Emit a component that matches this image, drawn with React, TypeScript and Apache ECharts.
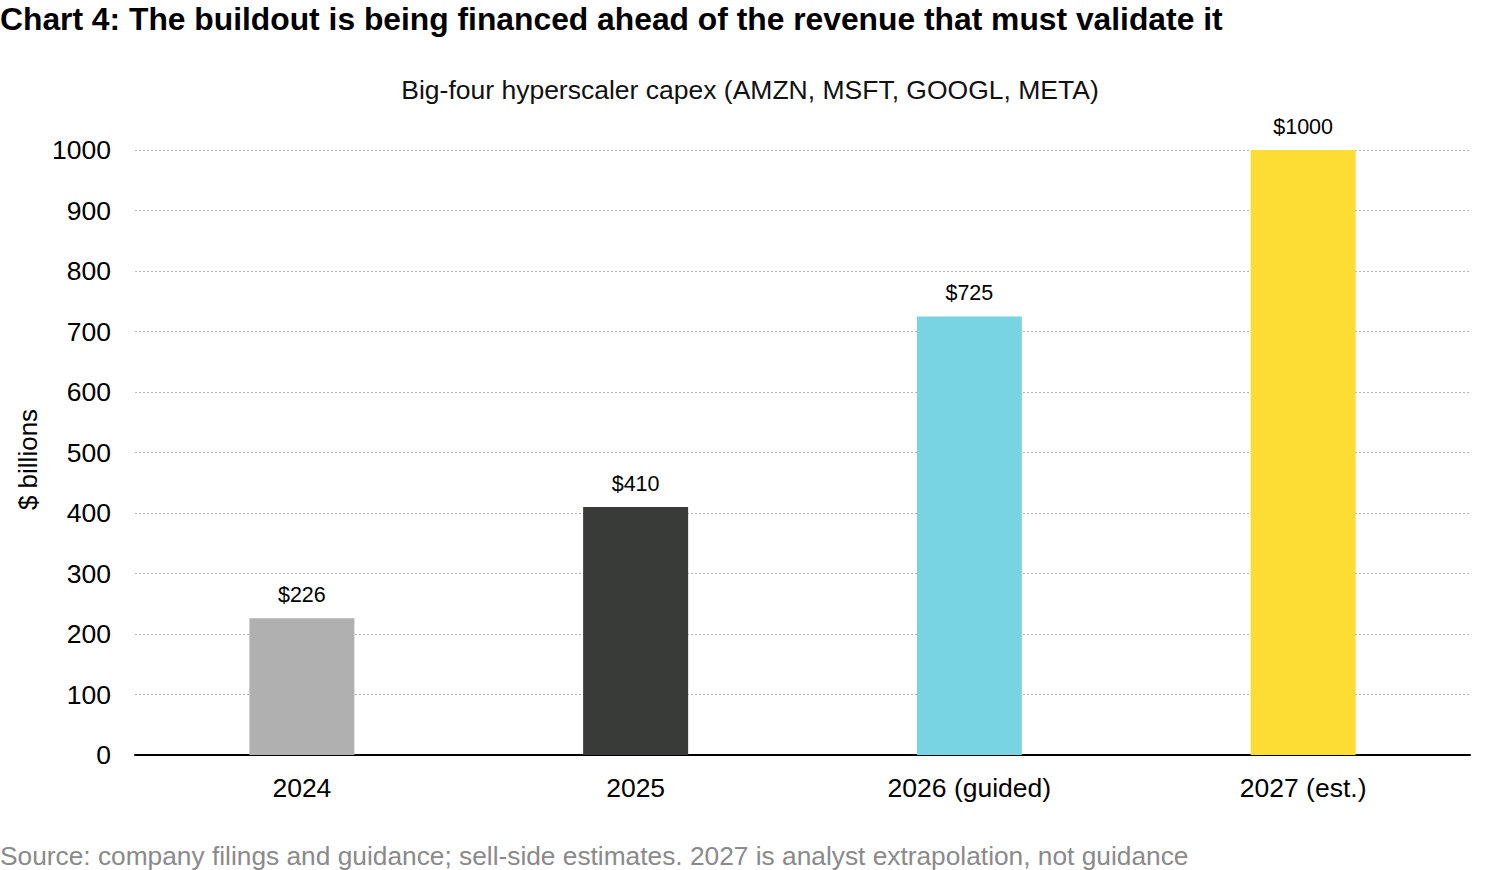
import React, { useEffect, useRef } from "react";
import * as echarts from "echarts";

const categories = ["2024", "2025", "2026 (guided)", "2027 (est.)"];
const capex = [226, 410, 725, 1000];
const barColors = ["#b0b0b0", "#393b38", "#78d3e3", "#fddc34"];
const yTicks = { min: 0, max: 1000, interval: 100 };

const FONT = "'Liberation Sans', Arial, Helvetica, sans-serif";

export default function App() {
  const ref = useRef<HTMLDivElement>(null);

  useEffect(() => {
    if (!ref.current) return;
    const chart = echarts.init(ref.current, undefined, { renderer: "svg" });
    chart.setOption({
      animation: false,
      backgroundColor: "#ffffff",
      textStyle: { fontFamily: FONT },
      title: [
        {
          text: "Chart 4: The buildout is being financed ahead of the revenue that must validate it",
          left: 0,
          top: 3,
          padding: 0,
          textStyle: { fontFamily: FONT, fontSize: 31.8, fontWeight: "bold", color: "#000" },
        },
        {
          text: "Big-four hyperscaler capex (AMZN, MSFT, GOOGL, META)",
          left: 750,
          textAlign: "center",
          top: 76,
          padding: 0,
          textStyle: { fontFamily: FONT, fontSize: 26.5, fontWeight: "normal", color: "#111" },
        },
        {
          text: "Source: company filings and guidance; sell-side estimates. 2027 is analyst extrapolation, not guidance",
          left: 0,
          top: 843,
          padding: 0,
          textStyle: { fontFamily: FONT, fontSize: 26.3, fontWeight: "normal", color: "#8a8a8a" },
        },
      ],
      grid: { left: 135, right: 30, top: 150, bottom: 115, containLabel: false },
      xAxis: {
        type: "category",
        data: categories,
        axisLine: { show: true, lineStyle: { color: "#000", width: 2 } },
        axisTick: { show: false },
        axisLabel: { fontFamily: FONT, fontSize: 26.5, color: "#000", margin: 19 },
      },
      yAxis: {
        type: "value",
        min: yTicks.min,
        max: yTicks.max,
        interval: yTicks.interval,
        name: "$ billions",
        nameLocation: "middle",
        nameRotate: 90,
        nameGap: 93,
        nameTextStyle: { fontFamily: FONT, fontSize: 26, color: "#000", padding: [0, 14, 0, 0] },
        axisLine: { show: false },
        axisTick: { show: false },
        axisLabel: {
          fontFamily: FONT,
          fontSize: 26.5,
          color: "#000",
          margin: 24,
          formatter: (v: number) => String(v),
        },
        splitLine: { show: true, lineStyle: { color: "#b5b5b5", type: [2, 2], width: 1 } },
      },
      series: [
        {
          type: "bar",
          barWidth: 105,
          data: capex.map((v, i) => ({ value: v, itemStyle: { color: barColors[i] } })),
          label: {
            show: true,
            position: "top",
            distance: 12,
            formatter: (p: any) => "$" + p.value,
            fontFamily: FONT,
            fontSize: 21.5,
            color: "#000",
          },
          z: 3,
        },
      ],
    });
    return () => chart.dispose();
  }, []);

  return (
    <div
      ref={ref}
      style={{ position: "absolute", left: 0, top: 0, width: 1500, height: 870 }}
    />
  );
}
